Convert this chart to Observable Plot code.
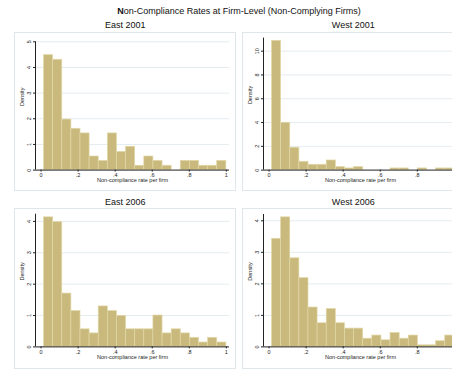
<!DOCTYPE html>
<html>
<head>
<meta charset="utf-8">
<script src="https://cdn.jsdelivr.net/npm/d3@7"></script>
<script src="https://cdn.jsdelivr.net/npm/@observablehq/plot@0.6"></script>
<style>
  html, body { margin: 0; padding: 0; background: #fff; overflow: hidden; }
  body { width: 452px; height: 370px; position: relative; font-family: "Liberation Sans", Arial, sans-serif; color: #111; }
  #root { position: absolute; left: 0; top: 0; width: 480px; height: 370px; }
  .title { position: absolute; left: 0; width: 478px; text-align: center; font-size: 9px; line-height: 10px; }
  .ptitle { position: absolute; width: 222px; text-align: center; font-size: 9px; line-height: 10px; }
  .panel { position: absolute; width: 222px; }
  .panel svg { display: block; }
  .border { position: absolute; left: 0; top: 0; right: 0; bottom: 0; border: 1px solid #dfe7eb; box-sizing: border-box; pointer-events: none; }
</style>
</head>
<body>
<div id="root"></div>
<script>
// ---- data (densities) ----
const panelTitles = ["East 2001", "West 2001", "East 2006", "West 2006"];
const binStart = 0.016;
const binWidth = 0.0492;
const east2001 = [4.48, 4.30, 1.97, 1.61, 1.43, 0.53, 0.36, 1.43, 0.71, 0.91, 0.17, 0.53, 0.36, 0.17, 0, 0.36, 0.36, 0.17, 0.17, 0.36];
const west2001 = [10.87, 3.98, 1.88, 0.70, 0.45, 0.45, 0.81, 0.25, 0.14, 0.25, 0, 0, 0, 0.14, 0.14, 0, 0.14, 0, 0.14, 0.14];
const east2006 = [4.13, 3.98, 1.70, 1.14, 0.56, 0.43, 1.29, 1.14, 0.99, 0.56, 0.56, 0.56, 1.00, 0.43, 0.56, 0.43, 0.29, 0.14, 0.29, 0.14];
const west2006 = [3.43, 4.11, 2.81, 2.18, 1.25, 0.75, 1.20, 0.75, 0.58, 0.58, 0.26, 0.36, 0.21, 0.44, 0.26, 0.36, 0.05, 0.05, 0.18, 0.36];
const yTicksE2001 = [0, 1, 2, 3, 4, 5];
const yTicksW2001 = [0, 2, 4, 6, 8, 10];
const yTicksE2006 = [0, 1, 2, 3, 4];
const yTicksW2006 = [0, 1, 2, 3, 4];
const xTicks = [0, 0.2, 0.4, 0.6, 0.8, 1];
const xTickLabels = ["0", ".2", ".4", ".6", ".8", "1"];
const xLabel = "Non-compliance rate per firm";
const yLabel = "Density";
const mainTitleBold = "N";
const mainTitleRest = "on-Compliance Rates at Firm-Level (Non-Complying Firms)";

// ---- layout ----
const root = document.getElementById("root");
const fill = "#c9b97c", stroke = "#e2d7a8";
const pageWidth = 452;

const t = document.createElement("div");
t.className = "title";
t.style.top = "6px";
t.innerHTML = "<b>" + mainTitleBold + "</b>" + mainTitleRest;
root.appendChild(t);

const specs = [
  {vals: east2001, ticks: yTicksE2001, ymax: 5,    left: 14.3,  top: 31.7,  h: 159, mt: 9.3, mb: 21.4},
  {vals: west2001, ticks: yTicksW2001, ymax: 11.1, left: 242.3, top: 31.7,  h: 159, mt: 5.6, mb: 21.4},
  {vals: east2006, ticks: yTicksE2006, ymax: 4.23, left: 14.3,  top: 208.3, h: 161, mt: 5.7, mb: 22.6},
  {vals: west2006, ticks: yTicksW2006, ymax: 4.2,  left: 242.3, top: 208.3, h: 161, mt: 6.0, mb: 22.6}
];

specs.forEach((s, i) => {
  const bins = s.vals.map((v, k) => ({x1: binStart + k * binWidth, x2: binStart + (k + 1) * binWidth, y: v}));
  // x scale of the panel (same as Plot's): used only to keep tick labels that fall inside the page
  const xs = d3.scaleLinear([-0.03, 1.017], [21, 222 - 7]);
  const visTicks = xTicks.map((d, k) => ({d, k})).filter(o => s.left + xs(o.d) + 4 < pageWidth);
  const chart = Plot.plot({
    width: 222, height: s.h,
    marginLeft: 21, marginRight: 7, marginTop: s.mt, marginBottom: s.mb,
    x: {domain: [-0.03, 1.017]},
    y: {domain: [0, s.ymax]},
    style: {fontFamily: "'Liberation Sans', Arial, sans-serif", fontSize: "5.5px", background: "transparent", color: "#222"},
    marks: [
      Plot.gridY(s.ticks.filter(d => d > 0), {stroke: "#e1eaee", strokeOpacity: 1, strokeWidth: 0.9}),
      Plot.rectY(bins.filter(d => d.y > 0), {x1: "x1", x2: "x2", y: "y", fill, stroke, strokeWidth: 0.7}),
      Plot.ruleY([0], {stroke: "#222", strokeWidth: 1}),
      Plot.ruleX([-0.03], {stroke: "#222", strokeWidth: 1}),
      Plot.axisY(s.ticks, {tickSize: 2, tickPadding: 2.5, tickRotate: -90, tickFormat: d => String(d), label: null, stroke: "#222", fill: "#222"}),
      Plot.axisX(visTicks.map(o => o.d), {tickSize: 2, tickPadding: 1.2, tickFormat: d => xTickLabels[xTicks.indexOf(d)], label: null, stroke: "#222", fill: "#222"}),
      Plot.text([yLabel], {frameAnchor: "left", rotate: -90, dx: -13.3, fill: "#222"}),
      Plot.text([xLabel], {frameAnchor: "bottom", dy: 12.3, fill: "#222"})
    ]
  });
  const pt = document.createElement("div");
  pt.className = "ptitle";
  pt.style.left = s.left + "px";
  pt.style.top = (s.top - 11.7) + "px";
  pt.textContent = panelTitles[i];
  root.appendChild(pt);

  const p = document.createElement("div");
  p.className = "panel";
  p.style.left = s.left + "px";
  p.style.top = s.top + "px";
  p.style.height = s.h + "px";
  p.appendChild(chart);
  const b = document.createElement("div");
  b.className = "border";
  p.appendChild(b);
  root.appendChild(p);
});
</script>
</body>
</html>
